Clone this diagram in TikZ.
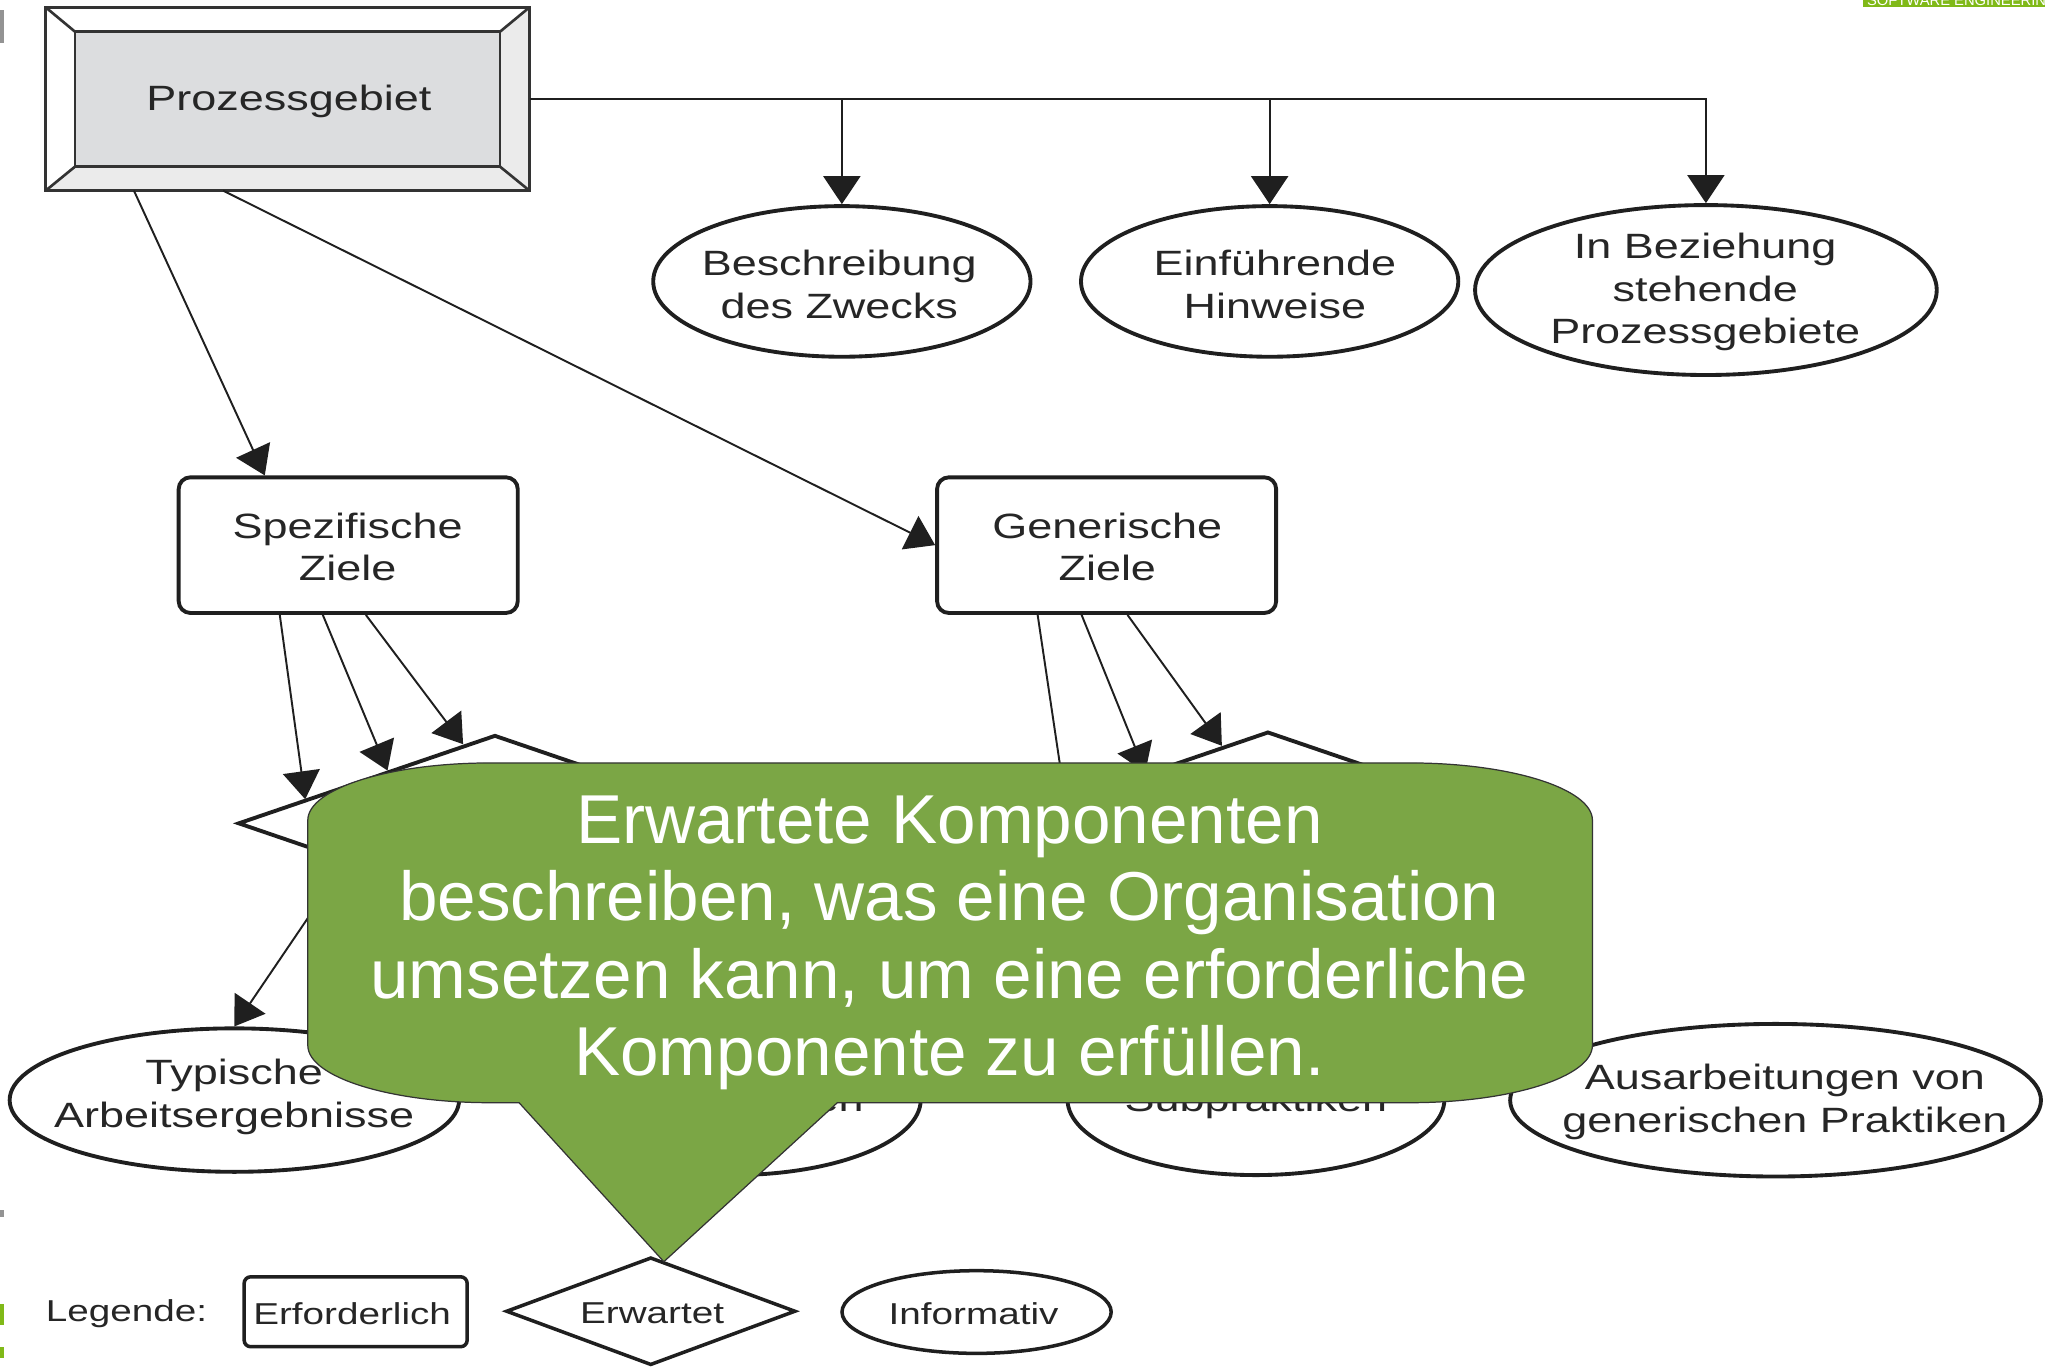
\documentclass[tikz,border=0pt]{standalone}
\usepackage{fontspec}
\setmainfont{Liberation Sans}
\newfontfamily\dfont[FakeStretch=1.28]{Liberation Sans}
\newfontfamily\cfont{Liberation Sans}
\usetikzlibrary{shapes.geometric,arrows.meta,calc}
\newlength\pu
\setlength\pu{0.013042cm}
\definecolor{callgreen}{RGB}{123,166,69}
\definecolor{slidelime}{RGB}{128,185,24}
\definecolor{ink}{RGB}{38,38,38}
\definecolor{panelgray}{RGB}{220,221,223}
\definecolor{bevelgray}{RGB}{235,235,235}
\newcommand\diagtext{\dfont\fontsize{10}{12.1}\selectfont}
\newcommand\legendtext{\dfont\fontsize{8.6}{10}\selectfont}
\newcommand\calltext{\cfont\fontsize{19.7}{22}\selectfont}
\begin{document}
\begin{tikzpicture}[x=\pu,y=-\pu,
  shapeline/.style={draw=black!88, line width=1.1pt},
  ell/.style={shapeline, ellipse, fill=white, inner sep=0pt},
  goal/.style={shapeline, rectangle, rounded corners=9\pu, fill=white, inner sep=0pt,
               minimum width=260\pu, minimum height=104\pu},
  dia/.style={shapeline, diamond, fill=white, inner sep=0pt},
  txt/.style={text=ink, font=\diagtext, align=center, inner sep=0pt},
  legtxt/.style={text=ink, font=\legendtext, inner sep=0pt},
  conn/.style={draw=black!88, line width=0.55pt},
  arr/.style={conn, -{Triangle[length=0.28cm,width=0.37cm]}},
  frame/.style={draw=black!80, line width=0.75pt},
  framebox/.style={inner sep=0pt, outer sep=0pt},
]
\fill[white] (0,0) rectangle (1568,1049);
\useasboundingbox (0,0) rectangle (1568,1049);

% slide decorations
\fill[gray!85] (0,7.7) rectangle (3.3,33.2);
\fill[gray!85] (0,927.8) rectangle (3,933.4);
\fill[slidelime] (0,1000) rectangle (3,1016);
\fill[slidelime] (0,1032.6) rectangle (3,1041.5);
\fill[slidelime] (1428.5,0) rectangle (1568,5.3);
\begin{scope}
  \clip (1428.5,0) rectangle (1568,5.3);
  \node[text=white, font=\cfont\fontsize{4.2}{5}\selectfont, anchor=base west, inner sep=0pt] (brand) at (1431,3.9) {SOFTWARE ENGINEERING};
\end{scope}

% Prozessgebiet
\node[framebox, minimum width=371\pu, minimum height=140.6\pu] (prozo) at (220.5,75.9) {};
\node[framebox, minimum width=325.9\pu, minimum height=103.5\pu] (proz) at (220.45,76.05) {};
\fill[bevelgray] (prozo.north east) -- (prozo.south east) -- (prozo.south west)
   -- (proz.south west) -- (proz.south east) -- (proz.north east) -- cycle;
\fill[panelgray] (proz.north west) rectangle (proz.south east);
\draw[frame] (prozo.north west) rectangle (prozo.south east);
\draw[frame] (proz.north west) rectangle (proz.south east);
\draw[frame] (prozo.north west) -- (proz.north west);
\draw[frame] (prozo.north east) -- (proz.north east);
\draw[frame] (prozo.south west) -- (proz.south west);
\draw[frame] (prozo.south east) -- (proz.south east);
\node[txt] (prozt) at (221.5,78) {Prozessgebiet};

% top row ellipses
\node[ell, minimum width=289.3\pu, minimum height=115.5\pu] (e1) at (645.5,215.8) {};
\node[ell, minimum width=289.3\pu, minimum height=115.5\pu] (e2) at (973.5,215.8) {};
\node[ell, minimum width=354\pu, minimum height=130.3\pu] (e3) at (1308,222.4) {};
\node[txt] (e1t) at (643.5,218) {Beschreibung\\des Zwecks};
\node[txt] (e2t) at (977.5,218) {Einführende\\Hinweise};
\node[txt] (e3t) at (1307.5,224) {In Beziehung\\stehende\\Prozessgebiete};

% goals
\node[goal] (spez) at (267,418) {};
\node[goal] (gen) at (848.5,418) {};
\node[txt] (spezt) at (266.5,419.5) {Spezifische\\Ziele};
\node[txt] (gent) at (849,419.5) {Generische\\Ziele};

% diamonds (practices)
\node[dia, minimum width=394\pu, minimum height=135.4\pu] (d1) at (379.5,631.3) {};
\node[dia, minimum width=394\pu, minimum height=135.4\pu] (d2) at (972.2,628.7) {};

% bottom row ellipses
\node[ell, minimum width=344.6\pu, minimum height=110\pu] (typ) at (179.7,843.5) {};
\node[ell, minimum width=289\pu, minimum height=116\pu] (sub1) at (561.5,843) {};
\node[ell, minimum width=289\pu, minimum height=116\pu] (sub2) at (963,843) {};
\node[ell, minimum width=407\pu, minimum height=117\pu] (aus) at (1361.4,843.6) {};
\node[txt] (typt) at (179.5,841) {Typische\\Arbeitsergebnisse};
\node[txt, anchor=base] (sub1t) at (561.5,852) {Subpraktiken};
\node[txt, anchor=base] (sub2t) at (963,852) {Subpraktiken};
\node[txt] (aust) at (1368.6,845) {Ausarbeitungen von\\generischen Praktiken};

% connectors
\draw[arr] (prozo.east) -| (e3.north);
\draw[arr] (e1.north |- prozo.east) -- (e1.north);
\draw[arr] (e2.north |- prozo.east) -- (e2.north);
\draw[arr] ([xshift=67.7\pu]prozo.south west) -- ([xshift=67.5\pu]spez.north west);
\draw[arr] ([xshift=136.1\pu]prozo.south west) -- (gen.west);

\draw[arr] ([xshift=79\pu]spez.south west) -- ($(d1.west)!0.267!(d1.north)$);
\draw[arr] ([xshift=112\pu]spez.south west) -- ($(d1.west)!0.585!(d1.north)$);
\draw[arr] ([xshift=145\pu]spez.south west) -- ($(d1.west)!0.877!(d1.north)$);
\draw[arr] ([xshift=78.6\pu]gen.south west) -- ($(d2.west)!0.217!(d2.north)$);
\draw[arr] ([xshift=112.3\pu]gen.south west) -- ($(d2.west)!0.526!(d2.north)$);
\draw[arr] ([xshift=147.5\pu]gen.south west) -- ($(d2.west)!0.822!(d2.north)$);

\draw[arr] ($(d1.west)!0.425!(d1.south)$) -- (typ.north);
\draw[arr] ($(d1.east)!0.5!(d1.south)$) -- (sub1.north);
\draw[arr] ($(d2.west)!0.5!(d2.south)$) -- (sub2.north);
\draw[arr] ($(d2.east)!0.5!(d2.south)$) -- ($(aus.center)+(-196.6,-15.1)$);

% legend
\node[legtxt] (legl) at (97,1007) {Legende:};
\node[shapeline, line width=1pt, rounded corners=5\pu, minimum width=171\pu, minimum height=53.6\pu, inner sep=0pt] (req) at (272.7,1005.8) {};
\node[legtxt] (reqt) at (270,1007) {Erforderlich};
\node[dia, line width=1pt, minimum width=222\pu, minimum height=82.7\pu] (exp) at (499,1005.4) {};
\node[legtxt] (expt) at (500,1007) {Erwartet};
\node[ell, line width=1pt, minimum width=206.4\pu, minimum height=63.4\pu] (inf) at (748.8,1006) {};
\node[legtxt] (inft) at (746.5,1007) {Informativ};

% callout
\filldraw[fill=callgreen, draw=black!80, line width=0.35pt]
  (376,585) -- (1081,585) .. controls (1158.3,585) and (1221,604.7) .. (1221,629)
  -- (1221,801.5) .. controls (1221,825.8) and (1158.3,845.5) .. (1081,845.5)
  -- (642,845.5) -- (509,967.4) -- (398,845.5) -- (376,845.5)
  .. controls (298.7,845.5) and (236,825.8) .. (236,801.5)
  -- (236,629) .. controls (236,604.7) and (298.7,585) .. (376,585) -- cycle;
\node[text=white, font=\calltext, align=center, inner sep=0pt] (ctext) at (728,723)
  {Erwartete Komponenten\\beschreiben, was eine Organisation\\umsetzen kann, um eine erforderliche\\Komponente zu erfüllen.};
\end{tikzpicture}
\end{document}
